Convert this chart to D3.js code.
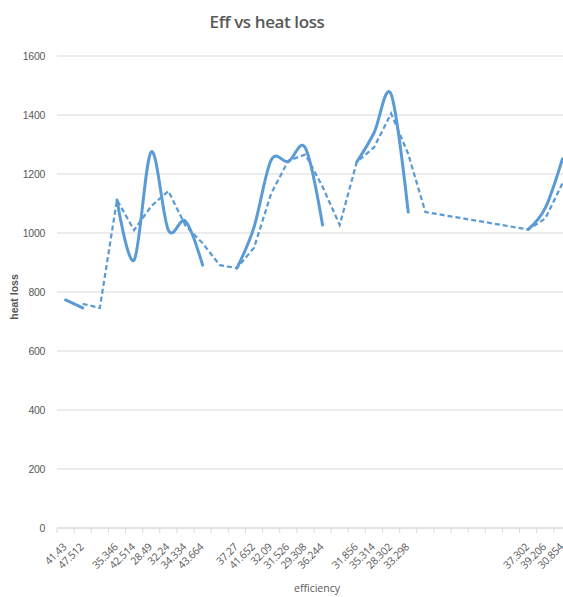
<!DOCTYPE html>
<html>
<head>
<meta charset="utf-8">
<script src="https://cdn.jsdelivr.net/npm/d3@7"></script>
<style>
  body { margin: 0; background: #fff; }
  svg { display: block; font-family: "Open Sans", sans-serif; }
  .tick-label { fill: #595959; font-size: 10.5px; letter-spacing: -0.3px; }
</style>
</head>
<body>
<script>
// category labels (blank slots are empty strings)
var labels = ["41.43", "47.512", "", "35.346", "42.514", "28.49", "32.24", "34.334", "43.664", "",
              "37.27", "41.652", "32.09", "31.526", "29.308", "36.244", "", "31.856", "35.314", "28.302",
              "33.298", "", "", "", "", "", "", "37.302", "39.206", "30.854"];

// heat loss (null = gap)
var heatLoss = [773, 746, null, 1112, 908, 1275, 1010, 1040, 891, null,
                881, 1020, 1247, 1242, 1288, 1027, null, 1241, 1339, 1471,
                1071, null, null, null, null, null, null, 1012, 1085, 1251];

// dashed trendline values
var trend = [null, 760, 746, 1112, 1010, 1091, 1142, 1025, 965, 891,
             881, 950, 1134, 1245, 1266, 1157, 1027, 1241, 1290, 1405,
             1268, 1071, null, null, null, null, null, 1012, 1049, 1168];

var yTicks = [0, 200, 400, 600, 800, 1000, 1200, 1400, 1600];

var outerWidth = 563,
    outerHeight = 597,
    margin = {top: 56, left: 57},
    innerWidth = 514,
    innerHeight = 472;

var color = "#5b9bd5";

var svg = d3.select("body").append("svg")
    .attr("width", outerWidth)
    .attr("height", outerHeight);

//title
svg.append("text")
    .text("Eff vs heat loss")
    .attr("x", 267)
    .attr("y", 28)
    .attr("text-anchor", "middle")
    .attr("fill", "#595959")
    .style("font-size", "17px")
    .style("font-weight", "600")
    .style("letter-spacing", "-0.4px");

var plot = svg.append("g")
    .attr("transform", "translate(" + margin.left + "," + margin.top + ")");

var xScale = d3.scaleBand()
    .domain(d3.range(labels.length))
    .range([0, innerWidth]);

var yScale = d3.scaleLinear()
    .domain([0, 1600])
    .range([innerHeight, 0]);

//gridlines
plot.append("g")
    .selectAll("line")
    .data(yTicks)
    .join("line")
    .attr("x1", 0)
    .attr("x2", innerWidth)
    .attr("y1", d => yScale(d))
    .attr("y2", d => yScale(d))
    .attr("stroke", "#d9d9d9")
    .attr("stroke-width", 1);

//y axis
var yg = plot.append("g")
    .call(d3.axisLeft(yScale).tickValues(yTicks).tickFormat(d3.format("d")).tickSize(0).tickPadding(12));
yg.select(".domain").remove();
yg.selectAll("text").attr("class", "tick-label").attr("fill", null);

yg.append("text")
    .text("heat loss")
    .attr("transform", "translate(-39," + (innerHeight / 2 + 5) + ") rotate(-90)")
    .attr("text-anchor", "middle")
    .attr("fill", "#595959")
    .style("font-size", "10.5px")
    .style("font-weight", "bold");

//x axis: ticks at category boundaries
var xg = plot.append("g")
    .attr("transform", "translate(0," + innerHeight + ")");

xg.append("line")
    .attr("x1", 0).attr("x2", innerWidth)
    .attr("stroke", "#d9d9d9");

xg.selectAll(".xtick")
    .data(d3.range(labels.length + 1))
    .join("line")
    .attr("class", "xtick")
    .attr("x1", d => d * xScale.step())
    .attr("x2", d => d * xScale.step())
    .attr("y1", 0)
    .attr("y2", 5)
    .attr("stroke", "#d9d9d9");

xg.selectAll(".xlab")
    .data(labels.map((l, i) => ({l: l, i: i})).filter(d => d.l !== ""))
    .join("text")
    .attr("class", "tick-label")
    .attr("text-anchor", "end")
    .attr("transform", d => "translate(" + (xScale(d.i) + xScale.bandwidth() / 2 - 1) + ",17) rotate(-45)")
    .attr("dy", "0.35em")
    .text(d => d.l);

xg.append("text")
    .text("efficiency")
    .attr("x", 260)
    .attr("y", 64)
    .attr("text-anchor", "middle")
    .attr("fill", "#595959")
    .style("font-size", "10.5px");

var cx = i => xScale(i) + xScale.bandwidth() / 2;

//trendline (dashed, straight, skips blanks)
var trendPts = trend.map((v, i) => [i, v]).filter(d => d[1] !== null);
plot.append("path")
    .datum(trendPts)
    .attr("fill", "none")
    .attr("stroke", color)
    .attr("stroke-width", 2.25)
    .attr("stroke-dasharray", "5,3")
    .attr("d", d3.line()
        .x(d => cx(d[0]))
        .y(d => yScale(d[1])));

//smoothed data line with gaps
plot.append("path")
    .datum(heatLoss)
    .attr("fill", "none")
    .attr("stroke", color)
    .attr("stroke-width", 3)
    .attr("stroke-linecap", "round")
    .attr("d", d3.line()
        .defined(d => d !== null)
        .curve(d3.curveCardinal.tension(0))
        .x((d, i) => cx(i))
        .y(d => yScale(d)));
</script>
</body>
</html>
